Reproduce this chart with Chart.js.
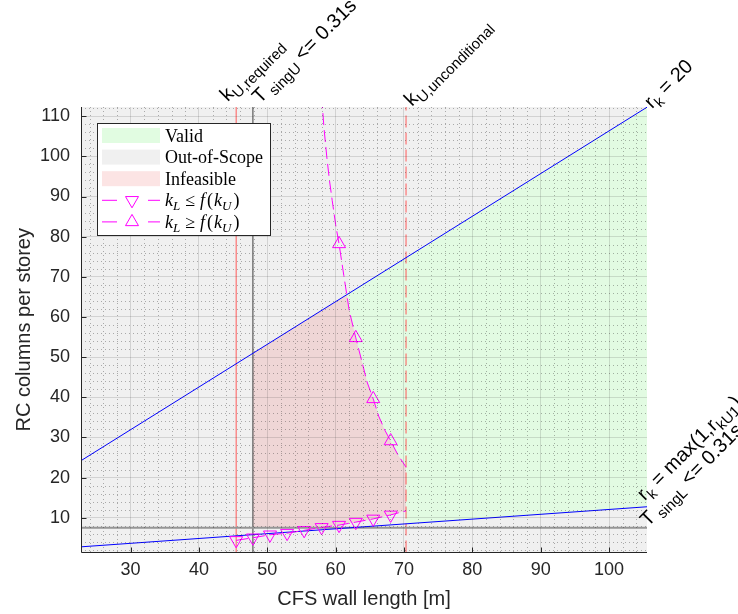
<!DOCTYPE html>
<html>
<head>
<meta charset="utf-8">
<script src="https://cdn.jsdelivr.net/npm/chart.js@4.4.0/dist/chart.umd.min.js"></script>
<style>
  html, body { margin: 0; padding: 0; background: #fff; }
  #wrap { width: 738px; height: 614px; }
</style>
</head>
<body>
<div id="wrap"><canvas id="chart" width="738" height="614"></canvas></div>
<script>
// axis limits and ticks
const xLimits = [22.75, 105.55];
const yLimits = [1.33, 112.3];
const xTickValues = [30, 40, 50, 60, 70, 80, 90, 100];
const yTickValues = [10, 20, 30, 40, 50, 60, 70, 80, 90, 100, 110];

// limit lines
const kURequired = 45.45;
const TsingU = 47.9;
const kUUnconditional = 70.3;
const TsingL = 7.5;

// r_k lines (end points)
const rk20X = [22.75, 105.55];
const rk20Y = [24.2, 112.25];
const rkMaxX = [22.75, 105.55];
const rkMaxY = [2.74, 12.72];

// k_L <= f(k_U)
const lowX = [45.45, 47.9, 50.4, 52.9, 55.4, 57.95, 60.5, 62.95, 65.5, 68.05, 70.3];
const lowY = [4.35, 5.0, 5.75, 6.15, 6.85, 7.6, 8.15, 8.9, 9.7, 10.7, 11.7];
const lowMarks = [1, 1, 1, 1, 1, 1, 1, 1, 1, 1, 0];

// k_L >= f(k_U)
const upX = [57.95, 58.3, 58.7, 59.1, 59.5, 60.0, 60.5, 61.2, 62.0, 62.95, 63.8, 64.6, 65.5, 66.3, 67.2, 68.05, 69.1, 70.3];
const upY = [115, 107, 100, 94, 89, 83, 78.2, 70.3, 61.5, 54.8, 49.2, 43.8, 39.6, 35.3, 31.8, 29.1, 25.7, 22.6];
const upMarks = [1, 0, 0, 0, 0, 0, 1, 0, 0, 1, 0, 0, 1, 0, 0, 1, 0, 0];

const magenta = '#ff00ff';
const axisColor = '#262626';
const sans = "'Liberation Sans', Arial, sans-serif";
const serif = "'Liberation Serif', 'Times New Roman', serif";

function interp(xs, ys, x) {
  for (let i = 0; i < xs.length - 1; i++) {
    if (x >= xs[i] && x <= xs[i + 1]) {
      return ys[i] + (ys[i + 1] - ys[i]) * (x - xs[i]) / (xs[i + 1] - xs[i]);
    }
  }
  return NaN;
}
function crossing(xs, ys, f) {
  for (let i = 0; i < xs.length - 1; i++) {
    const d0 = ys[i] - f(xs[i]), d1 = ys[i + 1] - f(xs[i + 1]);
    if (d0 * d1 <= 0) return xs[i] + d0 / (d0 - d1) * (xs[i + 1] - xs[i]);
  }
  return NaN;
}
const pts = (xs, ys) => xs.map((x, i) => ({x: x, y: ys[i]}));
const rk20 = x => interp(rk20X, rk20Y, x);
const rkMax = x => interp(rkMaxX, rkMaxY, x);

// region outlines built from the curves above
const xa = crossing(upX, upY, rk20);
const upTail = pts(upX, upY).filter(p => p.x > xa);
const xb = crossing(lowX, lowY, () => TsingL);
const lowTail = pts(lowX, lowY).filter(p => p.x > xb);

const validPoly = [
  {x: xa, y: rk20(xa)},
  {x: rk20X[1], y: rk20Y[1]},
  {x: rkMaxX[1], y: rkMaxY[1]},
  {x: kUUnconditional, y: rkMax(kUUnconditional)}
].concat(upTail.slice().reverse());

const infeasiblePoly = [
  {x: TsingU, y: TsingL},
  {x: TsingU, y: rk20(TsingU)},
  {x: xa, y: rk20(xa)}
].concat(upTail, lowTail.slice().reverse(), [{x: xb, y: TsingL}]);

// minor grid positions
const minorX = [], minorY = [];
for (let v = 24; v <= 104; v += 2) if (v % 10) minorX.push(v);
for (let v = 2; v <= 112; v += 2) if (v % 10) minorY.push(v);

function plainLine(data, color, width, dash) {
  return {data: data, showLine: true, borderColor: color, borderWidth: width,
    borderDash: dash || [], pointRadius: 0, fill: false};
}

function drawRuns(c, runs, x, y, family, size, subSize, drop) {
  let cx = x;
  runs.forEach(r => {
    cx += r.pad || 0;
    c.font = (r.it ? 'italic ' : '') + (r.sub ? subSize : size) + 'px ' + family;
    c.fillText(r.t, cx, y + (r.sub ? drop : 0));
    cx += c.measureText(r.t).width;
  });
  return cx;
}
function triangle(c, x, y, r, rot) {
  let a = rot * Math.PI / 180;
  c.beginPath();
  for (let k = 0; k < 3; k++) {
    const px = x + Math.sin(a) * r, py = y - Math.cos(a) * r;
    if (k === 0) c.moveTo(px, py); else c.lineTo(px, py);
    a += 2 * Math.PI / 3;
  }
  c.closePath();
  c.stroke();
}

function mathRuns(rel) {
  return [{t: 'k', it: 1}, {t: 'L', it: 1, sub: 1}, {t: rel, pad: 5}, {t: 'f', it: 1, pad: 5},
    {t: '(', pad: 2}, {t: 'k', it: 1, pad: 1}, {t: 'U', it: 1, sub: 1}, {t: ')', pad: 2}];
}
const legendItems = [
  {patch: '#e1fce1', runs: [{t: 'Valid'}]},
  {patch: '#f0f0f0', runs: [{t: 'Out-of-Scope'}]},
  {patch: '#fce4e4', runs: [{t: 'Infeasible'}]},
  {rot: 180, runs: mathRuns('\u2264')},
  {rot: 0, runs: mathRuns('\u2265')}
];

// rotated labels: anchor in data units, small pixel nudge
const annotations = [
  {x: kURequired, y: yLimits[1], dx: -8.5, dy: -4.7, runs: [{t: 'k'}, {t: 'U,required', sub: 1}]},
  {x: TsingU, y: yLimits[1], dx: 7, dy: -2.7, runs: [{t: 'T'}, {t: ' singU', sub: 1}, {t: ' <= 0.31s'}]},
  {x: kUUnconditional, y: yLimits[1], dx: 6, dy: 0, runs: [{t: 'k'}, {t: 'U,unconditional', sub: 1}]},
  {x: rk20X[1], y: rk20Y[1], dx: 5, dy: 2, runs: [{t: 'r'}, {t: 'k', sub: 1}, {t: ' = 20'}]},
  {x: rkMaxX[1], y: rkMaxY[1], dx: -2.3, dy: -5.6, runs: [{t: 'r'}, {t: 'k', sub: 1}, {t: ' = max(1,r'}, {t: 'kU1', sub: 1}, {t: ')'}]},
  {x: xLimits[1], y: TsingL, dx: 1, dy: -0.5, runs: [{t: 'T'}, {t: ' singL', sub: 1}, {t: ' <= 0.31s'}]}
];

const backgroundPlugin = {
  id: 'axesBackground',
  beforeDraw(chart) {
    const c = chart.ctx, a = chart.chartArea;
    c.save();
    c.fillStyle = '#fff';
    c.fillRect(0, 0, chart.width, chart.height);
    c.fillStyle = '#f0f0f0';
    c.fillRect(a.left, a.top, a.right - a.left, a.bottom - a.top);
    c.restore();
  },
  afterDatasetsDraw(chart) {
    // dotted minor grid over the shaded regions
    const c = chart.ctx, a = chart.chartArea;
    const xs = chart.scales.x, ys = chart.scales.y;
    c.save();
    c.strokeStyle = 'rgba(38,38,38,0.35)';
    c.lineWidth = 1;
    c.setLineDash([1, 3]);
    c.beginPath();
    minorX.forEach(v => {
      const px = Math.round(xs.getPixelForValue(v)) + 0.5;
      c.moveTo(px, a.top); c.lineTo(px, a.bottom);
    });
    minorY.forEach(v => {
      const py = Math.round(ys.getPixelForValue(v)) + 0.5;
      c.moveTo(a.left, py); c.lineTo(a.right, py);
    });
    c.stroke();
    c.restore();
  }
};

const decorPlugin = {
  id: 'decor',
  afterDraw(chart) {
    const c = chart.ctx, a = chart.chartArea;
    const xs = chart.scales.x, ys = chart.scales.y;
    c.save();
    // axis lines and inward tick marks
    const left = Math.round(a.left) + 0.5, bottom = Math.round(a.bottom) - 0.5;
    c.strokeStyle = axisColor;
    c.lineWidth = 1;
    c.beginPath();
    c.moveTo(left, a.top); c.lineTo(left, bottom); c.lineTo(a.right, bottom);
    xTickValues.forEach(v => {
      const px = Math.round(xs.getPixelForValue(v)) + 0.5;
      c.moveTo(px, bottom); c.lineTo(px, bottom - 5);
    });
    yTickValues.forEach(v => {
      const py = Math.round(ys.getPixelForValue(v)) + 0.5;
      c.moveTo(left, py); c.lineTo(left + 5, py);
    });
    c.stroke();

    // legend
    const bx = a.left + 16, by = a.top + 16, bw = 173, bh = 112;
    c.fillStyle = '#fff';
    c.fillRect(bx, by, bw, bh);
    c.strokeStyle = axisColor;
    c.strokeRect(bx + 0.5, by + 0.5, bw, bh);
    legendItems.forEach((it, i) => {
      const cy = by + 12.5 + i * 21.6;
      if (it.patch) {
        c.fillStyle = it.patch;
        c.fillRect(bx + 5, cy - 7.5, 58, 15);
      } else {
        c.strokeStyle = magenta;
        c.beginPath();
        c.moveTo(bx + 5, cy); c.lineTo(bx + 20, cy);
        c.moveTo(bx + 51, cy); c.lineTo(bx + 63, cy);
        c.stroke();
        triangle(c, bx + 35, cy, 7.5, it.rot);
      }
      c.fillStyle = '#000';
      c.textBaseline = 'alphabetic';
      drawRuns(c, it.runs, bx + 68, cy + 6, serif, 18, 13, 4);
    });

    // rotated labels
    c.fillStyle = '#000';
    annotations.forEach(an => {
      c.save();
      c.translate(xs.getPixelForValue(an.x) + an.dx, ys.getPixelForValue(an.y) + an.dy);
      c.rotate(-Math.PI / 4);
      drawRuns(c, an.runs, 0, 0, sans, 20, 15, 5);
      c.restore();
    });
    c.restore();
  }
};

const gridMajor = {color: 'rgba(38,38,38,0.15)', lineWidth: 1, drawTicks: false, z: 1};

new Chart(document.getElementById('chart'), {
  type: 'scatter',
  data: {
    datasets: [
      {label: 'k_L >= f(k_U)', data: pts(upX, upY), showLine: true, borderColor: magenta,
        borderWidth: 1, borderDash: [12, 5], pointStyle: 'triangle',
        pointRadius: upMarks.map(m => m ? 7.5 : 0), pointBorderColor: magenta,
        pointBackgroundColor: 'rgba(0,0,0,0)', pointBorderWidth: 1, fill: false},
      {label: 'k_L <= f(k_U)', data: pts(lowX, lowY), showLine: true, borderColor: magenta,
        borderWidth: 1, borderDash: [12, 5], pointStyle: 'triangle', pointRotation: 180,
        pointRadius: lowMarks.map(m => m ? 7.5 : 0), pointBorderColor: magenta,
        pointBackgroundColor: 'rgba(0,0,0,0)', pointBorderWidth: 1, fill: false},
      plainLine(pts(rk20X, rk20Y), '#0000ff', 1),
      plainLine(pts(rkMaxX, rkMaxY), '#0000ff', 1),
      plainLine([{x: xLimits[0], y: TsingL}, {x: xLimits[1], y: TsingL}], '#969696', 2),
      plainLine([{x: kURequired, y: yLimits[0]}, {x: kURequired, y: yLimits[1]}], '#ff5a5a', 1),
      plainLine([{x: TsingU, y: yLimits[0]}, {x: TsingU, y: yLimits[1]}], '#3c3c3c', 1),
      plainLine([{x: kUUnconditional, y: yLimits[0]}, {x: kUUnconditional, y: yLimits[1]}], '#ff5a5a', 1, [12, 5]),
      {label: 'Infeasible', data: infeasiblePoly, showLine: true, fill: 'shape',
        backgroundColor: '#efd6d6', borderWidth: 0, borderColor: 'rgba(0,0,0,0)', pointRadius: 0},
      {label: 'Valid', data: validPoly, showLine: true, fill: 'shape',
        backgroundColor: '#e2fbe2', borderWidth: 0, borderColor: 'rgba(0,0,0,0)', pointRadius: 0}
    ]
  },
  options: {
    responsive: false,
    animation: false,
    events: [],
    layout: {padding: {top: 107, right: 91, left: 0, bottom: 0}},
    plugins: {legend: {display: false}, tooltip: {enabled: false}},
    scales: {
      x: {
        type: 'linear', position: 'bottom', min: xLimits[0], max: xLimits[1],
        afterBuildTicks: s => { s.ticks = xTickValues.map(v => ({value: v})); },
        afterFit: s => { s.height = 61.5; },
        grid: gridMajor,
        border: {display: false},
        ticks: {color: axisColor, font: {family: sans, size: 18}, padding: 7,
          maxRotation: 0, autoSkip: false, callback: v => String(v)},
        title: {display: true, text: 'CFS wall length [m]', color: axisColor,
          font: {family: sans, size: 20}, padding: {top: 0, bottom: 3}}
      },
      y: {
        type: 'linear', position: 'left', min: yLimits[0], max: yLimits[1],
        afterBuildTicks: s => { s.ticks = yTickValues.map(v => ({value: v})); },
        afterFit: s => { s.width = 81; },
        grid: gridMajor,
        border: {display: false},
        ticks: {color: axisColor, font: {family: sans, size: 18}, padding: 11,
          autoSkip: false, callback: v => String(v)},
        title: {display: true, text: 'RC columns per storey', color: axisColor,
          font: {family: sans, size: 20}, padding: {top: 12, bottom: 0}}
      }
    }
  },
  plugins: [backgroundPlugin, decorPlugin]
});
</script>
</body>
</html>
